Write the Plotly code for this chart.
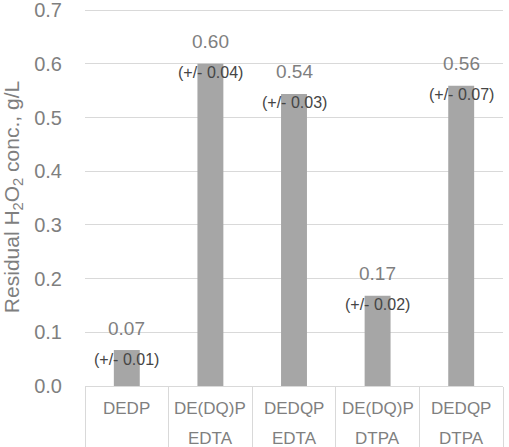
import plotly.graph_objects as go

categories = ["DEDP", "DE(DQ)P EDTA", "DEDQP EDTA", "DE(DQ)P DTPA", "DEDQP DTPA"]
cat_line1 = ["DEDP", "DE(DQ)P", "DEDQP", "DE(DQ)P", "DEDQP"]
cat_line2 = ["", "EDTA", "EDTA", "DTPA", "DTPA"]
values = [0.067, 0.60, 0.544, 0.168, 0.559]
value_labels = ["0.07", "0.60", "0.54", "0.17", "0.56"]
err_labels = ["(+/- 0.01)", "(+/- 0.04)", "(+/- 0.03)", "(+/- 0.02)", "(+/- 0.07)"]
y_ticks = [0.0, 0.1, 0.2, 0.3, 0.4, 0.5, 0.6, 0.7]

FONT = "Liberation Sans, Arial, sans-serif"
GRAY = "#7f7f7f"

fig = go.Figure()
fig.add_trace(go.Bar(
    x=categories, y=values,
    marker=dict(color="#a6a6a6", line=dict(width=0)),
    width=0.31,
    hoverinfo="skip",
))

for c, v, vl, el in zip(categories, values, value_labels, err_labels):
    fig.add_annotation(x=c, y=v, text=vl, showarrow=False, yshift=22,
                       font=dict(family=FONT, size=19, color=GRAY))
    fig.add_annotation(x=c, y=v, text=el, showarrow=False, yshift=-9,
                       font=dict(family=FONT, size=16, color="#454545"))

for c, l1, l2 in zip(categories, cat_line1, cat_line2):
    fig.add_annotation(x=c, xref="x", y=0, yref="paper", text=l1, showarrow=False,
                       yanchor="middle", yshift=-22,
                       font=dict(family=FONT, size=17, color=GRAY))
    if l2:
        fig.add_annotation(x=c, xref="x", y=0, yref="paper", text=l2, showarrow=False,
                           yanchor="middle", yshift=-52,
                           font=dict(family=FONT, size=17, color=GRAY))

fig.update_layout(
    width=509, height=447,
    margin=dict(l=85, r=6, t=8, b=61),
    paper_bgcolor="white", plot_bgcolor="white",
    showlegend=False,
    font=dict(family=FONT, color=GRAY),
    xaxis=dict(
        type="category",
        automargin=False,
        showticklabels=False,
        showgrid=False, zeroline=False,
        showline=True, linecolor="#d9d9d9", linewidth=1,
        ticks="outside", tickson="boundaries", ticklen=61, tickcolor="#d9d9d9", tickwidth=1,
    ),
    yaxis=dict(
        range=[0, 0.704],
        automargin=False,
        tickvals=y_ticks,
        tickformat=".1f",
        showgrid=True, gridcolor="#d9d9d9", gridwidth=1,
        zeroline=False, showline=False,
        ticks="", ticklabelstandoff=22,
        ticklabeloverflow="allow",
        tickfont=dict(family=FONT, size=20, color=GRAY),
        title=dict(text="Residual H<sub>2</sub>O<sub>2</sub> conc., g/L",
                   font=dict(family=FONT, size=21, color=GRAY), standoff=10),
    ),
)

fig.write_html("out.html")
